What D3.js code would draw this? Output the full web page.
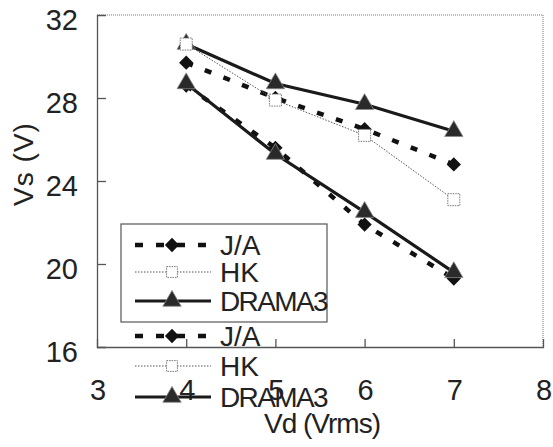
<!DOCTYPE html>
<html><head><meta charset="utf-8">
<script src="https://cdn.jsdelivr.net/npm/d3@7"></script>
<style>body{margin:0;background:#fff}svg{display:block}text{font-family:"Liberation Sans",Arial,sans-serif;fill:#222}</style>
</head><body>
<script>
const vd = [4, 5, 6, 7];
const jaUpper = [29.7, 28.0, 26.5, 24.8];
const hkUpper = [30.6, 27.9, 26.2, 23.1];
const dramaUpper = [30.6, 28.7, 27.7, 26.4];
const jaLower = [28.6, 25.6, 21.9, 19.3];
const dramaLower = [28.7, 25.3, 22.5, 19.6];
const xTicks = [3, 4, 5, 6, 7, 8];
const yTicks = [16, 20, 24, 28, 32];
const legendNames = ["J/A", "HK", "DRAMA3"];

const W = 553, H = 447;
const svg = d3.select("body").append("svg").attr("width", W).attr("height", H);
const x = d3.scaleLinear().domain([3, 8]).range([97, 543]);
const y = d3.scaleLinear().domain([16, 32]).range([347, 15]);

// frame top/right dotted
svg.append("path").attr("d", `M${x(3)},${y(32)}H${x(8)}V${y(16)}`)
  .attr("fill", "none").attr("stroke", "#777").attr("stroke-width", 1).attr("stroke-dasharray", "1,1");

// axes
const gx = svg.append("g").attr("transform", `translate(0,${y(16)})`)
  .call(d3.axisBottom(x).tickValues(xTicks).tickSize(-8).tickFormat(""));
const gy = svg.append("g").attr("transform", `translate(${x(3)},0)`)
  .call(d3.axisLeft(y).tickValues(yTicks).tickSize(-9).tickFormat(""));
[gx, gy].forEach(g => { g.selectAll("path,line").attr("stroke", "#555").attr("stroke-width", 1.3); });
gx.selectAll(".tick").filter(d => d === 3 || d === 8).remove();
gy.selectAll(".tick").filter(d => d === 16 || d === 32).remove();

// tick labels
svg.append("g").selectAll("text").data(xTicks).join("text")
  .attr("x", d => x(d) + 1).attr("y", 400).attr("text-anchor", "middle").attr("font-size", 29).text(d => d);
svg.append("g").selectAll("text").data(yTicks).join("text")
  .attr("x", 78).attr("y", d => y(d) + 15).attr("text-anchor", "end").attr("font-size", 29).text(d => d);

// axis titles
svg.append("text").attr("x", 322).attr("y", 433).attr("text-anchor", "middle").attr("font-size", 28)
  .attr("letter-spacing", -1).text("Vd (Vrms)");
svg.append("text").attr("transform", "translate(33,164) rotate(-90)").attr("text-anchor", "middle")
  .attr("font-size", 28).attr("letter-spacing", 1).text("Vs (V)");

const line = d3.line().x(d => x(d[0])).y(d => y(d[1]));
const styles = {
  ja: {stroke: "#111", width: 4.5, dash: "7,13"},
  hk: {stroke: "#555", width: 1, dash: "1.5,1.5"},
  drama: {stroke: "#1a1a1a", width: 3.2, dash: null}
};
function marker(g, type, cx, cy, s) {
  s = s || 1;
  if (type === "ja") {
    g.append("path").attr("d", d3.symbol(d3.symbolDiamond2, 130 * s)())
      .attr("transform", `translate(${cx},${cy})`).attr("fill", "#111");
  } else if (type === "hk") {
    g.append("rect").attr("x", cx - 6 * s).attr("y", cy - 6 * s).attr("width", 12 * s).attr("height", 12 * s)
      .attr("fill", "#fff").attr("stroke", "#777").attr("stroke-width", 1).attr("stroke-dasharray", "1.5,1");
  } else {
    g.append("path").attr("d", d3.symbol(d3.symbolTriangle, 145 * s)())
      .attr("transform", `translate(${cx},${cy})`).attr("fill", "#2a2a2a").attr("stroke", "#888").attr("stroke-width", 0.8);
  }
}
function series(vals, type) {
  const pts = vd.map((v, i) => [v, vals[i]]);
  const st = styles[type];
  const g = svg.append("g");
  g.append("path").attr("d", line(pts)).attr("fill", "none").attr("stroke", st.stroke)
    .attr("stroke-width", st.width).attr("stroke-dasharray", st.dash);
  pts.forEach(p => marker(g, type, x(p[0]), y(p[1])));
}
series(jaUpper, "ja");
series(jaLower, "ja");
series(dramaUpper, "drama");
series(dramaLower, "drama");
series(hkUpper, "hk");

// legends
svg.append("rect").attr("x", 121).attr("y", 224).attr("width", 206).attr("height", 98)
  .attr("fill", "#fff").attr("stroke", "#555").attr("stroke-width", 1.2);
const types = ["ja", "hk", "drama"];
function legend(rows) {
  const g = svg.append("g");
  types.forEach((t, i) => {
    const cy = rows[i], st = styles[t];
    g.append("line").attr("x1", 135).attr("x2", 211).attr("y1", cy).attr("y2", cy)
      .attr("stroke", st.stroke).attr("stroke-width", st.width).attr("stroke-dasharray", t === "ja" ? "8,13" : st.dash);
    marker(g, t, 172, cy, t === "hk" ? 0.9 : 1);
    g.append("text").attr("x", 220).attr("y", cy + 10).attr("font-size", 28)
      .attr("letter-spacing", t === "drama" ? -1.6 : 0).text(legendNames[i]);
  });
}
legend([245, 272, 301]);
legend([336, 366, 397]);
</script>
</body></html>
